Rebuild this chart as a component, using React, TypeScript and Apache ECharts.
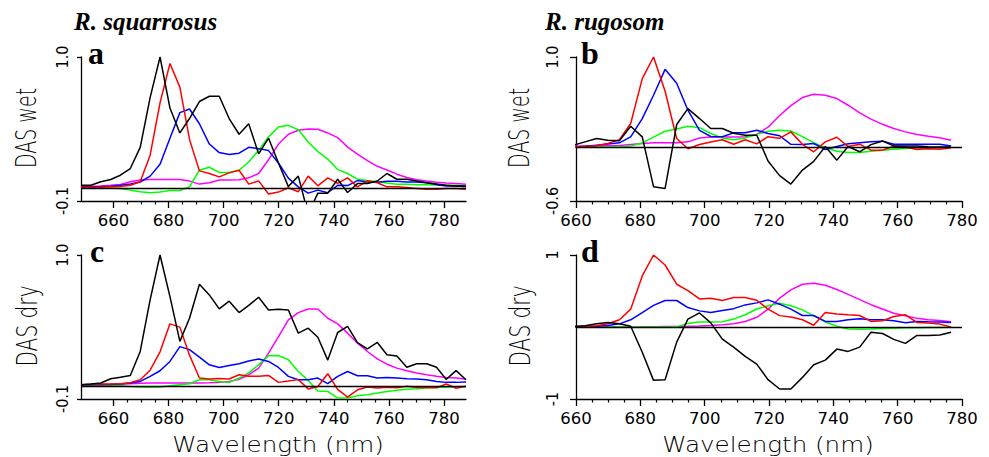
import React, { useEffect, useRef } from "react";
import * as echarts from "echarts";

// Wavelength grids (nm)
const wlSquarrosus = [648.2, 651.8, 655.4, 659.0, 662.5, 666.1, 669.7, 673.3, 676.9, 680.5, 684.1, 687.6, 691.2, 694.8, 698.4, 702.0, 705.6, 709.1, 712.7, 716.3, 719.9, 723.5, 727.1, 730.7, 734.2, 737.8, 741.4, 745.0, 748.6, 752.2, 755.8, 759.3, 762.9, 766.5, 770.1, 773.7, 777.3, 780.8, 784.4, 788.0];
const wlRugosom = [659.3, 662.8, 666.4, 669.9, 673.5, 677.0, 680.6, 684.1, 687.7, 691.3, 694.8, 698.4, 701.9, 705.5, 709.0, 712.6, 716.2, 719.7, 723.3, 726.8, 730.4, 733.9, 737.5, 741.1, 744.6, 748.2, 751.7, 755.3, 758.8, 762.4, 766.0, 769.5, 773.1, 776.6];

// Panel a: R. squarrosus, wet
const aBlack = [0.02, 0.02, 0.047, 0.064, 0.097, 0.148, 0.31, 0.69, 1.0, 0.61, 0.42, 0.53, 0.66, 0.7, 0.7, 0.53, 0.41, 0.49, 0.26, 0.38, 0.19, 0.01, 0.09, -0.2, -0.04, -0.04, 0.066, -0.035, 0.033, 0.033, 0.053, 0.11, 0.066, 0.066, 0.053, 0.04, 0.03, 0.02, 0.015, 0.015];
const aRed = [0.005, 0.005, 0.005, 0.008, 0.01, 0.02, 0.047, 0.25, 0.65, 0.95, 0.77, 0.37, 0.13, 0.11, 0.084, 0.115, 0.135, 0.029, 0.054, -0.047, -0.032, 0.001, -0.029, 0.09, 0.016, 0.077, 0.035, 0.077, 0.008, 0.054, 0.039, 0.008, 0.008, 0.003, -0.004, -0.011, -0.01, -0.004, -0.004, -0.011];
const aBlue = [0.008, 0.008, 0.01, 0.013, 0.02, 0.03, 0.045, 0.09, 0.18, 0.38, 0.575, 0.603, 0.49, 0.335, 0.27, 0.255, 0.265, 0.31, 0.3, 0.285, 0.19, 0.075, 0.008, -0.04, -0.017, -0.037, 0.02, 0.018, 0.056, 0.045, 0.043, 0.05, 0.05, 0.045, 0.045, 0.04, 0.025, 0.015, 0.014, 0.008];
const aGreen = [0.001, 0.001, 0.0, 0.0, -0.004, -0.017, -0.029, -0.037, -0.032, -0.02, -0.02, 0.008, 0.135, 0.158, 0.118, 0.118, 0.135, 0.198, 0.287, 0.39, 0.465, 0.478, 0.444, 0.35, 0.277, 0.22, 0.14, 0.11, 0.067, 0.056, 0.048, 0.037, 0.028, 0.027, 0.025, 0.024, 0.023, 0.021, 0.02, 0.017];
const aMagenta = [0.013, 0.013, 0.015, 0.02, 0.027, 0.047, 0.06, 0.065, 0.065, 0.065, 0.065, 0.052, 0.029, 0.04, 0.06, 0.06, 0.062, 0.077, 0.11, 0.215, 0.335, 0.41, 0.44, 0.45, 0.448, 0.42, 0.384, 0.312, 0.258, 0.208, 0.165, 0.137, 0.105, 0.08, 0.063, 0.052, 0.043, 0.037, 0.033, 0.028];

// Panel b: R. rugosom, wet
const bBlack = [0.02, 0.057, 0.095, 0.076, 0.069, 0.231, 0.113, -0.441, -0.46, 0.25, 0.427, 0.316, 0.205, 0.205, 0.153, 0.131, 0.131, -0.155, -0.318, -0.412, -0.256, -0.16, 0.005, -0.146, 0.005, -0.053, 0.026, 0.067, 0.012, 0.012, 0.012, 0.002, 0.0, 0.0];
const bRed = [0.0, 0.005, 0.015, 0.04, 0.08, 0.261, 0.76, 1.0, 0.62, 0.094, -0.02, 0.028, 0.055, 0.08, 0.031, 0.08, 0.035, 0.115, 0.096, 0.168, 0.03, -0.053, 0.057, 0.108, 0.005, 0.031, -0.035, -0.035, 0.008, 0.0, -0.028, -0.02, -0.026, -0.008];
const bBlue = [0.0, 0.007, 0.02, 0.032, 0.046, 0.113, 0.316, 0.575, 0.863, 0.708, 0.409, 0.185, 0.117, 0.113, 0.157, 0.159, 0.187, 0.15, 0.125, 0.03, 0.028, 0.039, -0.028, 0.005, 0.035, 0.048, 0.057, 0.065, 0.031, 0.031, 0.031, 0.031, 0.031, 0.012];
const bGreen = [0.0, 0.0, 0.0, 0.0, 0.002, 0.01, 0.045, 0.11, 0.175, 0.2, 0.231, 0.215, 0.15, 0.1, 0.08, 0.1, 0.14, 0.174, 0.187, 0.178, 0.116, 0.048, -0.008, -0.048, -0.06, -0.062, -0.046, -0.035, -0.024, -0.016, -0.01, -0.008, -0.006, -0.005];
const bMagenta = [0.007, 0.01, 0.012, 0.015, 0.017, 0.028, 0.039, 0.046, 0.046, 0.046, 0.057, 0.1, 0.11, 0.112, 0.112, 0.113, 0.14, 0.22, 0.35, 0.46, 0.549, 0.586, 0.575, 0.538, 0.464, 0.379, 0.31, 0.252, 0.205, 0.168, 0.139, 0.12, 0.102, 0.076];

// Panel c: R. squarrosus, dry
const cBlack = [0.009, 0.014, 0.022, 0.055, 0.067, 0.08, 0.263, 0.657, 1.0, 0.682, 0.34, 0.517, 0.776, 0.695, 0.588, 0.647, 0.56, 0.615, 0.677, 0.58, 0.586, 0.58, 0.403, 0.441, 0.372, 0.197, 0.408, 0.454, 0.33, 0.282, 0.332, 0.238, 0.228, 0.142, 0.169, 0.169, 0.142, 0.05, 0.117, 0.047];
const cRed = [0.009, 0.012, 0.014, 0.014, 0.016, 0.025, 0.047, 0.12, 0.26, 0.474, 0.449, 0.235, 0.06, 0.053, 0.056, 0.053, 0.085, 0.074, 0.074, 0.08, 0.027, 0.037, 0.048, -0.023, -0.004, 0.093, -0.027, -0.085, -0.03, -0.009, -0.016, -0.01, -0.015, -0.002, -0.013, -0.012, -0.015, 0.015, -0.018, -0.002];
const cBlue = [0.007, 0.008, 0.008, 0.01, 0.014, 0.022, 0.034, 0.073, 0.116, 0.187, 0.3, 0.277, 0.22, 0.161, 0.141, 0.156, 0.169, 0.19, 0.205, 0.187, 0.141, 0.073, 0.047, 0.047, 0.06, 0.017, 0.073, 0.11, 0.078, 0.078, 0.06, 0.065, 0.06, 0.055, 0.052, 0.047, 0.034, 0.027, 0.027, 0.03];
const cGreen = [0.007, 0.007, 0.007, 0.004, 0.002, -0.004, -0.009, -0.011, -0.009, 0.001, 0.009, 0.017, 0.047, 0.047, 0.034, 0.027, 0.06, 0.1, 0.161, 0.23, 0.232, 0.2, 0.11, 0.042, -0.038, -0.042, -0.093, -0.093, -0.075, -0.067, -0.055, -0.042, -0.034, -0.026, -0.022, -0.016, -0.012, -0.01, -0.006, -0.004];
const cMagenta = [0.007, 0.008, 0.01, 0.012, 0.014, 0.017, 0.02, 0.022, 0.022, 0.022, 0.022, 0.022, 0.022, 0.024, 0.027, 0.034, 0.05, 0.085, 0.136, 0.25, 0.377, 0.504, 0.56, 0.588, 0.588, 0.517, 0.474, 0.403, 0.326, 0.263, 0.207, 0.166, 0.136, 0.116, 0.098, 0.085, 0.073, 0.065, 0.06, 0.052];

// Panel d: R. rugosom, dry
const dBlack = [0.007, 0.017, 0.044, 0.063, 0.044, 0.01, -0.35, -0.741, -0.732, -0.21, 0.11, 0.195, 0.058, -0.168, -0.28, -0.408, -0.515, -0.732, -0.861, -0.861, -0.7, -0.524, -0.46, -0.307, -0.339, -0.279, -0.073, -0.09, -0.172, -0.228, -0.117, -0.117, -0.112, -0.073];
const dRed = [0.007, 0.007, 0.017, 0.044, 0.1, 0.248, 0.709, 1.0, 0.861, 0.594, 0.506, 0.39, 0.4, 0.368, 0.411, 0.409, 0.372, 0.248, 0.158, 0.14, 0.1, 0.025, 0.203, 0.18, 0.169, 0.16, 0.077, 0.086, 0.146, 0.169, 0.063, 0.054, 0.04, 0.0];
const dBlue = [0.007, 0.007, 0.01, 0.02, 0.044, 0.1, 0.2, 0.3, 0.368, 0.368, 0.27, 0.224, 0.2, 0.23, 0.255, 0.307, 0.335, 0.377, 0.317, 0.248, 0.16, 0.16, 0.078, 0.078, 0.1, 0.113, 0.1, 0.1, 0.086, 0.06, 0.077, 0.072, 0.068, 0.063];
const dGreen = [0.0, 0.0, 0.0, 0.0, 0.0, 0.0, 0.0, 0.0, 0.0, 0.002, 0.05, 0.07, 0.07, 0.074, 0.11, 0.17, 0.25, 0.295, 0.331, 0.296, 0.238, 0.155, 0.07, 0.01, -0.028, -0.03, -0.027, -0.02, -0.016, -0.012, -0.01, -0.008, -0.006, -0.004];
const dMagenta = [0.0, 0.0, 0.0, 0.0, 0.0, 0.0, 0.002, 0.004, 0.006, 0.008, 0.01, 0.015, 0.02, 0.03, 0.044, 0.077, 0.135, 0.248, 0.4, 0.515, 0.594, 0.608, 0.58, 0.52, 0.453, 0.38, 0.31, 0.25, 0.19, 0.155, 0.12, 0.1, 0.09, 0.072];

// Axis ticks
const xMajorTicks = [660, 680, 700, 720, 740, 760, 780];
const xMinorTicks = [665, 670, 675, 685, 690, 695, 705, 710, 715, 725, 730, 735, 745, 750, 755, 765, 770, 775];

const COLORS: Record<string, string> = {
  magenta: "#ff00ff",
  green: "#00ff00",
  blue: "#0000ff",
  red: "#ff0000",
  black: "#000000",
};

type Panel = {
  wl: number[];
  xMin: number;
  xMax: number;
  yMin: number;
  yMax: number;
  left: number;
  top: number;
  width: number;
  height: number;
  lines: Record<string, number[]>;
  yFmt: (v: number) => string;
  yLabelMargin: number;
  yTickLen: number;
};

const fmt1 = (v: number) => v.toFixed(1);
const fmt0 = (v: number) => String(Math.round(v));

const panels: Panel[] = [
  { wl: wlSquarrosus, xMin: 648.2, xMax: 788, yMin: -0.1, yMax: 1.0, left: 81, top: 57, width: 385, height: 144,
    lines: { magenta: aMagenta, green: aGreen, blue: aBlue, red: aRed, black: aBlack }, yFmt: fmt1, yLabelMargin: 11, yTickLen: 4 },
  { wl: wlRugosom, xMin: 660, xMax: 780, yMin: -0.6, yMax: 1.0, left: 576, top: 57, width: 386, height: 144,
    lines: { magenta: bMagenta, green: bGreen, blue: bBlue, red: bRed, black: bBlack }, yFmt: fmt1, yLabelMargin: 16, yTickLen: 6 },
  { wl: wlSquarrosus, xMin: 648.2, xMax: 788, yMin: -0.1, yMax: 1.0, left: 81, top: 255, width: 385, height: 144,
    lines: { magenta: cMagenta, green: cGreen, blue: cBlue, red: cRed, black: cBlack }, yFmt: fmt1, yLabelMargin: 11, yTickLen: 4 },
  { wl: wlRugosom, xMin: 660, xMax: 780, yMin: -1, yMax: 1, left: 576, top: 255, width: 386, height: 144,
    lines: { magenta: dMagenta, green: dGreen, blue: dBlue, red: dRed, black: dBlack }, yFmt: fmt0, yLabelMargin: 16, yTickLen: 6 },
];

const AXIS_FONT = "DejaVu Sans";
const NARROW_FONT = "'Liberation Sans Narrow', 'DejaVu Sans Condensed', 'Liberation Sans', sans-serif";

function buildOption() {
  const grid: any[] = [];
  const xAxis: any[] = [];
  const yAxis: any[] = [];
  const series: any[] = [];

  panels.forEach((p, i) => {
    grid.push({ left: p.left, top: p.top, width: p.width, height: p.height, containLabel: false });
    xAxis.push({
      type: "value", gridIndex: i, min: p.xMin, max: p.xMax, position: "bottom",
      axisLine: { show: true, onZero: false, lineStyle: { color: "#000", width: 1.3 } },
      axisTick: { show: true, customValues: xMajorTicks, length: 7, lineStyle: { color: "#000", width: 1.3 } },
      axisLabel: { show: true, customValues: xMajorTicks, margin: 11, fontSize: 16.5, fontFamily: AXIS_FONT, color: "#000" },
      splitLine: { show: false },
    });
    xAxis.push({
      type: "value", gridIndex: i, min: p.xMin, max: p.xMax, position: "bottom",
      axisLine: { show: false, onZero: false },
      axisTick: { show: true, customValues: xMinorTicks, length: 3.5, lineStyle: { color: "#000", width: 1.2 } },
      axisLabel: { show: false },
      splitLine: { show: false },
    });
    yAxis.push({
      type: "value", gridIndex: i, min: p.yMin, max: p.yMax, position: "left",
      axisLine: { show: true, onZero: false, lineStyle: { color: "#000", width: 1.3 } },
      axisTick: { show: true, customValues: [p.yMin, p.yMax], length: p.yTickLen, lineStyle: { color: "#000", width: 1.3 } },
      axisLabel: { show: true, customValues: [p.yMin, p.yMax], rotate: 90, margin: p.yLabelMargin, fontSize: 16, fontFamily: NARROW_FONT, color: "#000", formatter: p.yFmt },
      splitLine: { show: false },
    });
    const order = ["magenta", "green", "blue", "red", "black"];
    order.forEach((name) => {
      const vals = p.lines[name];
      const s: any = {
        type: "line", xAxisIndex: i * 2, yAxisIndex: i, name: `${name}-${i}`,
        data: p.wl.map((w, k) => [w, vals[k]]),
        showSymbol: false, symbol: "none", clip: true, smooth: false,
        lineStyle: { color: COLORS[name], width: 1.5 },
        itemStyle: { color: COLORS[name] },
        silent: true,
      };
      if (name === "black") {
        s.markLine = {
          silent: true, symbol: "none", label: { show: false },
          lineStyle: { color: "#000", width: 1.3, type: "solid" },
          data: [{ yAxis: 0 }],
        };
      }
      series.push(s);
    });
  });

  const txt = (text: string, x: number, y: number, style: any, extra: any = {}) => ({
    type: "text", x, y, silent: true, ...extra,
    style: { text, fill: "#000", align: "center", textAlign: "center", verticalAlign: "middle", textVerticalAlign: "middle", ...style },
  });

  const titleStyle = { fontFamily: "'Liberation Serif', serif", fontWeight: "bold", fontStyle: "italic", fontSize: 25, align: "left", textAlign: "left" };
  const letterStyle = { fontFamily: "'Liberation Serif', serif", fontWeight: "bold", fontSize: 32, align: "left", textAlign: "left" };
  const yNameStyle = { fontFamily: AXIS_FONT, fontSize: 28, fontWeight: 200 };
  const xNameStyle = { fontFamily: AXIS_FONT, fontSize: 20.5, fontWeight: 200 };

  const graphic = [
    txt("R. squarrosus", 74, 21, titleStyle),
    txt("R. rugosom", 545, 21, titleStyle),
    txt("a", 88, 52.5, letterStyle),
    txt("b", 581, 52.5, letterStyle),
    txt("c", 90, 250.5, letterStyle),
    txt("d", 581, 250.5, letterStyle),
    txt("DAS wet", 27, 128, yNameStyle, { rotation: Math.PI / 2, scaleX: 0.68 }),
    txt("DAS wet", 520, 128, yNameStyle, { rotation: Math.PI / 2, scaleX: 0.68 }),
    txt("DAS dry", 27, 326, yNameStyle, { rotation: Math.PI / 2, scaleX: 0.72 }),
    txt("DAS dry", 520, 326, yNameStyle, { rotation: Math.PI / 2, scaleX: 0.72 }),
    txt("Wavelength (nm)", 278, 444.5, xNameStyle, { scaleX: 1.2 }),
    txt("Wavelength (nm)", 768, 444.5, xNameStyle, { scaleX: 1.2 }),
  ];

  return {
    animation: false,
    backgroundColor: "#ffffff",
    grid, xAxis, yAxis, series, graphic,
  };
}

export default function App() {
  const ref = useRef<HTMLDivElement>(null);
  useEffect(() => {
    document.body.style.margin = "0";
    if (!ref.current) return;
    const chart = echarts.init(ref.current, null, { renderer: "svg" });
    chart.setOption(buildOption() as any);
    return () => chart.dispose();
  }, []);
  return <div ref={ref} style={{ width: 989, height: 457 }} />;
}
